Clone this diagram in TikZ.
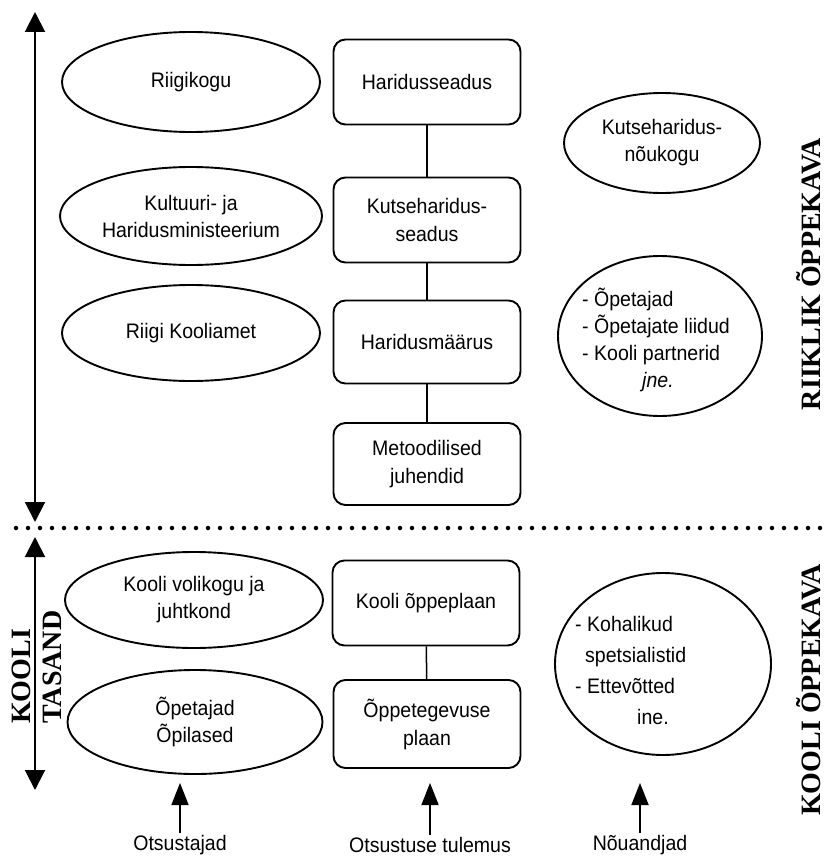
\documentclass[tikz,border=0pt]{standalone}
\usepackage{fontspec}
\setmainfont{Liberation Sans}[FakeStretch=0.93]
\newfontfamily\serifb{Liberation Serif}
\usetikzlibrary{shapes.geometric,arrows.meta}
\begin{document}
\begin{tikzpicture}[x=1pt,y=-1pt,
  ell/.style={draw,line width=1.9pt,ellipse,inner sep=0pt,align=center,font=\fontsize{21}{27}\selectfont},
  box/.style={draw,line width=1.9pt,rounded corners=12pt,inner sep=0pt,align=center,minimum width=187pt,font=\fontsize{21}{28}\selectfont},
  txt/.style={inner sep=0pt,align=left,anchor=west,font=\fontsize{21}{27}\selectfont},
  link/.style={line width=1.5pt},
  axis/.style={line width=2pt,{Triangle[length=20pt,width=20pt]}-{Triangle[length=20pt,width=20pt]}},
  uparrow/.style={line width=1.8pt,-{Triangle[length=22pt,width=17pt]}},
  side/.style={font=\serifb\bfseries\fontsize{28}{30}\selectfont,rotate=90,inner sep=0pt},
  lab/.style={font=\fontsize{21}{22}\selectfont,inner sep=2pt}]
\useasboundingbox (0,0) rectangle (827,856);

% left column ellipses
\node[ell,minimum width=258pt,minimum height=100pt] (e1) at (191,82) {Riigikogu};
\node[ell,minimum width=262pt,minimum height=98pt] (e2) at (191,216) {Kultuuri- ja\\Haridusministeerium};
\node[ell,minimum width=258pt,minimum height=96pt] (e3) at (191,333) {Riigi Kooliamet};
\node[ell,minimum width=258pt,minimum height=96pt] (e4) at (194,600) {Kooli volikogu ja\\juhtkond};
\node[ell,minimum width=255pt,minimum height=104pt] (e5) at (195,722) {Õpetajad\\Õpilased};

% middle column boxes
\node[box,minimum height=85pt] (b1) at (427,82) {Haridusseadus};
\node[box,minimum height=85pt] (b2) at (427,220) {Kutseharidus-\\seadus};
\node[box,minimum height=83pt] (b3) at (427,342) {Haridusmäärus};
\node[box,minimum height=82pt] (b4) at (427,464) {Metoodilised\\juhendid};
\node[box,minimum height=85pt] (b5) at (426,603) {Kooli õppeplaan};
\node[box,minimum height=88pt] (b6) at (427,724) {Õppetegevuse\\plaan};
\draw[link] (b1) -- (b2);
\draw[link] (b2) -- (b3);
\draw[link] (b3) -- (b4);
\draw[link] (b5) -- (b6);

% right column ellipses
\node[ell,minimum width=196pt,minimum height=100pt] (r1) at (662,143) {Kutseharidus-\\nõukogu};
\node[ell,minimum width=204pt,minimum height=160pt] (r2) at (660,336) {};
\node[txt] (r2t) at (582,340) {- Õpetajad\\- Õpetajate liidud\\- Kooli partnerid\\\hspace*{60pt}\textit{jne.}};
\node[ell,minimum width=216pt,minimum height=182pt] (r3) at (663,664) {};
\node[txt,font=\fontsize{21}{31}\selectfont] (r3t) at (575,670) {- Kohalikud\\\hspace*{10pt}spetsialistid\\- Ettevõtted\\\hspace*{62pt}ine.};

% left axis
\coordinate (a1) at (35,12);
\coordinate (a2) at (35,522);
\coordinate (a3) at (35,537);
\coordinate (a4) at (35,790);
\draw[axis] (a1) -- (a2);
\draw[axis] (a3) -- (a4);

% dotted separator
\coordinate (d1) at (16,528);
\coordinate (d2) at (825,528);
\draw[line width=4.5pt,line cap=round,dash pattern=on 0pt off 12pt] (d1) -- (d2);

% side labels
\node[side,anchor=base west] (k1) at (30,724) {KOOLI};
\node[side,anchor=base west] (k2) at (61,724) {TASAND};
\node[side,anchor=base] (s1) at (820,274) {RIIKLIK ÕPPEKAVA};
\node[side,anchor=base] (s2) at (820,690) {KOOLI ÕPPEKAVA};

% bottom labels and arrows
\node[lab] (l1) at (180,845) {Otsustajad};
\node[lab] (l2) at (430,845) {Otsustuse tulemus};
\node[lab] (l3) at (640,845) {Nõuandjad};
\coordinate (t1) at (180,783);
\coordinate (t2) at (430,783);
\coordinate (t3) at (640,783);
\draw[uparrow] (l1.north) -- (t1);
\draw[uparrow] (l2.north) -- (t2);
\draw[uparrow] (l3.north) -- (t3);
\end{tikzpicture}
\end{document}
